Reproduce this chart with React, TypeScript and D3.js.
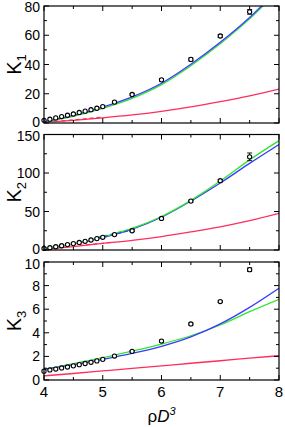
import React from "react";
import * as d3 from "d3";

const W = 285;
const H = 427;

// Simulation points (x = rho D^3)
const simX = [4.0, 4.1, 4.2, 4.3, 4.4, 4.5, 4.6, 4.7, 4.8, 4.9, 5.0, 5.2, 5.5, 6.0, 6.5, 7.0, 7.5];
const k1Sim = [1.8, 2.6, 3.5, 4.4, 5.3, 6.2, 7.2, 8.1, 9.1, 10.1, 11.2, 14.3, 19.5, 29.5, 43.5, 59.5, 76];
const k1Err = [0, 0, 0, 0, 0, 0, 0, 0, 0, 0, 0, 0.5, 0.6, 0.8, 1, 1, 1.6];
const k2Sim = [2, 3, 4.2, 5.5, 7, 8.3, 9.8, 11.3, 13, 14.8, 16.5, 20, 25, 41, 63.5, 90, 121];
const k2Err = [0, 0, 0, 0, 0, 0, 0, 0, 0, 0, 0, 0.6, 0.8, 1, 1.2, 1.5, 5];
const k3Sim = [0.75, 0.85, 0.93, 1.02, 1.1, 1.2, 1.3, 1.4, 1.5, 1.62, 1.75, 2.03, 2.43, 3.3, 4.75, 6.65, 9.35];
const k3Err = [0, 0, 0, 0, 0, 0, 0, 0, 0, 0, 0, 0.05, 0.06, 0.08, 0.08, 0.08, 0.15];

// Theory curves
const curveX = [4.0, 4.5, 5.0, 5.5, 6.0, 6.5, 7.0, 7.5, 8.0];
const k1Blue = [0.8, 5.2, 10.8, 17.8, 27.2, 40.2, 55.2, 72.2, 92];
const k1Green = [0.6, 4.6, 10.0, 16.8, 26.2, 39.2, 54.2, 71.2, 91];
const k1Red = [0.4, 1.8, 3.5, 5.5, 8.0, 11.0, 14.6, 18.6, 23.2];
const k2Blue = [2, 7.5, 16, 27, 42.5, 63.5, 87, 112.5, 137];
const k2Green = [2, 8, 17, 28, 43.5, 64.5, 89.5, 117, 142];
const k2Red = [1, 4.5, 8.5, 12.5, 17.5, 23.5, 30, 38, 47.5];
const k3Blue = [0.9, 1.3, 1.75, 2.25, 2.85, 3.65, 4.75, 6.15, 7.77];
const k3Green = [0.9, 1.38, 1.89, 2.45, 3.05, 3.75, 4.66, 5.79, 6.84];
const k3Red = [0.35, 0.55, 0.77, 0.99, 1.2, 1.42, 1.63, 1.85, 2.06];

// Short dashed segments
const dashX1 = [4.3, 4.6, 5.0];
const k1RedDash = [1.4, 2.5, 4.0];
const dashX2 = [4.6, 4.9, 5.2];
const k2RedDash = [6.0, 8.0, 10.3];
const dashX3 = [4.9, 5.2, 5.6];
const k2GreenDash = [16.5, 21.5, 30];
const k2BlueDash = [15.5, 20.5, 28.5];

const xTicks = [4, 5, 6, 7, 8];
const xMinor = [4.5, 5.5, 6.5, 7.5];

const BLUE = "#3a3aff";
const GREEN = "#2ee62e";
const RED = "#ff2d5a";

const LEFT = 44;
const RIGHT = 279;

type Line = { xs: number[]; ys: number[]; color: string; dash?: string };

type Panel = {
  top: number;
  bottom: number;
  max: number;
  major: number[];
  minor: number[];
  title: string;
  sub: string;
  sim: number[];
  err: number[];
  lines: Line[];
};

const panels: Panel[] = [
  {
    top: 6,
    bottom: 123,
    max: 80,
    major: [0, 20, 40, 60, 80],
    minor: [10, 30, 50, 70],
    title: "K",
    sub: "1",
    sim: k1Sim,
    err: k1Err,
    lines: [
      { xs: curveX, ys: k1Red, color: RED },
      { xs: dashX1, ys: k1RedDash, color: RED, dash: "4,3" },
      { xs: curveX, ys: k1Green, color: GREEN },
      { xs: curveX, ys: k1Blue, color: BLUE },
    ],
  },
  {
    top: 134.5,
    bottom: 250,
    max: 150,
    major: [0, 50, 100, 150],
    minor: [25, 75, 125],
    title: "K",
    sub: "2",
    sim: k2Sim,
    err: k2Err,
    lines: [
      { xs: curveX, ys: k2Red, color: RED },
      { xs: dashX2, ys: k2RedDash, color: RED, dash: "4,3" },
      { xs: curveX, ys: k2Blue, color: BLUE },
      { xs: curveX, ys: k2Green, color: GREEN },
      { xs: dashX3, ys: k2GreenDash, color: GREEN, dash: "4,3" },
      { xs: dashX3, ys: k2BlueDash, color: BLUE, dash: "4,3" },
    ],
  },
  {
    top: 262,
    bottom: 380,
    max: 10,
    major: [0, 2, 4, 6, 8, 10],
    minor: [1, 3, 5, 7, 9],
    title: "K",
    sub: "3",
    sim: k3Sim,
    err: k3Err,
    lines: [
      { xs: curveX, ys: k3Red, color: RED },
      { xs: curveX, ys: k3Green, color: GREEN },
      { xs: curveX, ys: k3Blue, color: BLUE },
    ],
  },
];

const FONT = "'Liberation Sans', Arial, sans-serif";

function PanelView({ p, idx, x, n }: { p: Panel; idx: number; x: d3.ScaleLinear<number, number>; n: number }) {
  const y = d3.scaleLinear().domain([0, p.max]).range([p.bottom, p.top]);
  const clipId = `clip${idx}`;
  const MAJ = 5;
  const MIN = 3;
  const midY = (p.top + p.bottom) / 2;
  const labelY = (t: number) => {
    let v = y(t);
    if (t === 0 && idx < n - 1) v -= 1.5;
    if (t === p.max && idx > 0) v += 1.5;
    return Math.max(v, 7);
  };
  return (
    <g>
      <defs>
        <clipPath id={clipId}>
          <rect x={LEFT} y={p.top} width={RIGHT - LEFT} height={p.bottom - p.top} />
        </clipPath>
      </defs>
      <g clipPath={`url(#${clipId})`}>
        {p.lines.map((l, i) => {
          const gen = d3
            .line<number>()
            .x((_, j) => x(l.xs[j]))
            .y((v) => y(v))
            .curve(d3.curveMonotoneX);
          return (
            <path
              key={i}
              d={gen(l.ys) || ""}
              fill="none"
              stroke={l.color}
              strokeWidth={1.3}
              strokeDasharray={l.dash}
            />
          );
        })}
      </g>
      {simX.map((sx, i) => {
        const cx = x(sx);
        const cy = y(p.sim[i]);
        const e = p.err[i];
        return (
          <g key={i}>
            {e > 0 && (
              <g stroke="#000" strokeWidth={0.9}>
                <line x1={cx} x2={cx} y1={y(p.sim[i] - e)} y2={y(p.sim[i] + e)} />
                <line x1={cx - 2.5} x2={cx + 2.5} y1={y(p.sim[i] - e)} y2={y(p.sim[i] - e)} />
                <line x1={cx - 2.5} x2={cx + 2.5} y1={y(p.sim[i] + e)} y2={y(p.sim[i] + e)} />
              </g>
            )}
            <circle cx={cx} cy={cy} r={2.1} fill="#fff" stroke="#000" strokeWidth={1.1} />
          </g>
        );
      })}
      {/* frame */}
      <rect x={LEFT} y={p.top} width={RIGHT - LEFT} height={p.bottom - p.top} fill="none" stroke="#000" strokeWidth={1.2} />
      {/* ticks */}
      <g stroke="#000" strokeWidth={1}>
        {xTicks.map((t) => (
          <g key={"xt" + t}>
            <line x1={x(t)} x2={x(t)} y1={p.bottom} y2={p.bottom - MAJ} />
            <line x1={x(t)} x2={x(t)} y1={p.top} y2={p.top + MAJ} />
          </g>
        ))}
        {xMinor.map((t) => (
          <g key={"xm" + t}>
            <line x1={x(t)} x2={x(t)} y1={p.bottom} y2={p.bottom - MIN} />
            <line x1={x(t)} x2={x(t)} y1={p.top} y2={p.top + MIN} />
          </g>
        ))}
        {p.major.map((t) => (
          <g key={"yt" + t}>
            <line x1={LEFT} x2={LEFT + MAJ} y1={y(t)} y2={y(t)} />
            <line x1={RIGHT} x2={RIGHT - MAJ} y1={y(t)} y2={y(t)} />
          </g>
        ))}
        {p.minor.map((t) => (
          <g key={"ym" + t}>
            <line x1={LEFT} x2={LEFT + MIN} y1={y(t)} y2={y(t)} />
            <line x1={RIGHT} x2={RIGHT - MIN} y1={y(t)} y2={y(t)} />
          </g>
        ))}
      </g>
      {p.major.map((t) => (
        <text
          key={"yl" + t}
          x={LEFT - 4}
          y={labelY(t)}
          dy="0.36em"
          textAnchor="end"
          fontFamily={FONT}
          fontSize={14}
          fill="#000"
        >
          {t}
        </text>
      ))}
      <text
        transform={`translate(21,${midY}) rotate(-90)`}
        textAnchor="middle"
        fontFamily={FONT}
        fontSize={20}
        fill="#000"
      >
        {p.title}
        <tspan fontSize={13} dy="5">{p.sub}</tspan>
      </text>
    </g>
  );
}

export default function App() {
  const x = d3.scaleLinear().domain([4, 8]).range([LEFT, RIGHT]);
  const last = panels[panels.length - 1];
  return (
    <svg width={W} height={H} style={{ position: "absolute", left: 0, top: 0, background: "#fff" }}>
      <rect width={W} height={H} fill="#fff" />
      {panels.map((p, i) => (
        <PanelView key={i} p={p} idx={i} x={x} n={panels.length} />
      ))}
      {xTicks.map((t) => (
        <text
          key={"xl" + t}
          x={x(t)}
          y={last.bottom + 17}
          textAnchor="middle"
          fontFamily={FONT}
          fontSize={15}
          fill="#000"
        >
          {t}
        </text>
      ))}
      <text x={x(6)} y={422} textAnchor="middle" fontFamily={FONT} fontSize={17} fill="#000">
        ρ<tspan fontStyle="italic">D</tspan>
        <tspan fontStyle="italic" fontSize={11} dy="-7">3</tspan>
      </text>
    </svg>
  );
}
